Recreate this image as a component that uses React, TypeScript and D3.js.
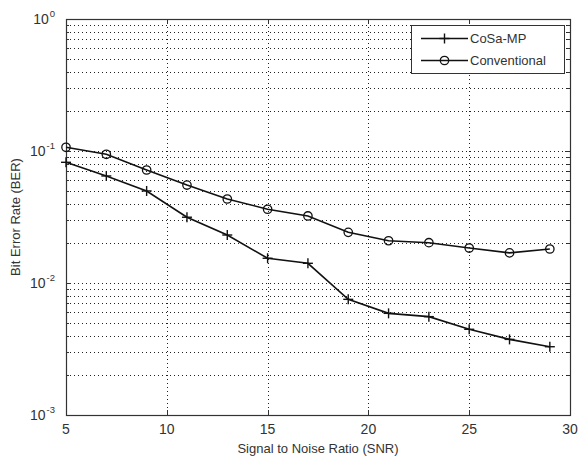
import React from "react";
import * as d3 from "d3";

const snr = [5, 7, 9, 11, 13, 15, 17, 19, 21, 23, 25, 27, 29];
const cosaMP = [0.0821, 0.0647, 0.0498, 0.0315, 0.0231, 0.0154, 0.0141, 0.00752, 0.00589, 0.00556, 0.00446, 0.00374, 0.00329];
const conventional = [0.1067, 0.0944, 0.0718, 0.0552, 0.0433, 0.0362, 0.0322, 0.0242, 0.0209, 0.0202, 0.0184, 0.0169, 0.0181];
const xTicks = [5, 10, 15, 20, 25, 30];
const yExponents = [-3, -2, -1, 0];
const seriesNames = ["CoSa-MP", "Conventional"];

const W = 580, H = 459;
const L = 66, R = 570, T = 19, B = 415;
const FONT = "'Liberation Sans', Arial, sans-serif";

export default function App() {
  const x = d3.scaleLinear().domain([5, 30]).range([L, R]);
  const y = d3.scaleLog().domain([1e-3, 1]).range([B, T]);
  const line = d3.line<[number, number]>().x(d => x(d[0])).y(d => y(d[1]));
  const minor: number[] = [];
  for (const e of [-3, -2, -1]) for (let k = 2; k <= 9; k++) minor.push(k * Math.pow(10, e));
  const cosaPts = snr.map((s, i) => [s, cosaMP[i]] as [number, number]);
  const convPts = snr.map((s, i) => [s, conventional[i]] as [number, number]);
  const axisColor = "#333";
  const plus = (cx: number, cy: number, k: string) => (
    <g key={k} stroke="#111" strokeWidth={1.4}>
      <line x1={cx - 5} x2={cx + 5} y1={cy} y2={cy} />
      <line x1={cx} x2={cx} y1={cy - 5} y2={cy + 5} />
    </g>
  );
  const circ = (cx: number, cy: number, k: string) => (
    <circle key={k} cx={cx} cy={cy} r={4.2} fill="none" stroke="#111" strokeWidth={1.3} />
  );
  return (
    <svg width={W} height={H} style={{ display: "block", position: "absolute", left: 0, top: 0, background: "#fff" }} fontFamily={FONT}>
      <rect x={0} y={0} width={W} height={H} fill="#fff" />
      <g stroke="#222" strokeWidth={1} strokeDasharray="1,3" fill="none">
        {minor.concat([0.01, 0.1]).map((v, i) => (
          <line key={"h" + i} x1={L} x2={R} y1={Math.round(y(v)) + 0.5} y2={Math.round(y(v)) + 0.5} />
        ))}
        {xTicks.slice(1, -1).map((v, i) => (
          <line key={"v" + i} x1={Math.round(x(v)) + 0.5} x2={Math.round(x(v)) + 0.5} y1={T} y2={B} />
        ))}
      </g>
      <g stroke={axisColor} strokeWidth={1}>
        {minor.map((v, i) => (
          <g key={"mt" + i}>
            <line x1={L} x2={L + 3} y1={Math.round(y(v)) + 0.5} y2={Math.round(y(v)) + 0.5} />
            <line x1={R} x2={R - 3} y1={Math.round(y(v)) + 0.5} y2={Math.round(y(v)) + 0.5} />
          </g>
        ))}
        {yExponents.map((e, i) => (
          <g key={"Mt" + i}>
            <line x1={L} x2={L + 5} y1={Math.round(y(Math.pow(10, e))) + 0.5} y2={Math.round(y(Math.pow(10, e))) + 0.5} />
            <line x1={R} x2={R - 5} y1={Math.round(y(Math.pow(10, e))) + 0.5} y2={Math.round(y(Math.pow(10, e))) + 0.5} />
          </g>
        ))}
        {xTicks.map((v, i) => (
          <g key={"xt" + i}>
            <line x1={Math.round(x(v)) + 0.5} x2={Math.round(x(v)) + 0.5} y1={B} y2={B - 5} />
            <line x1={Math.round(x(v)) + 0.5} x2={Math.round(x(v)) + 0.5} y1={T} y2={T + 5} />
          </g>
        ))}
      </g>
      <rect x={L + 0.5} y={T + 0.5} width={R - L} height={B - T} fill="none" stroke={axisColor} strokeWidth={1.2} />
      <path d={line(convPts) || ""} fill="none" stroke="#111" strokeWidth={1.6} />
      <path d={line(cosaPts) || ""} fill="none" stroke="#111" strokeWidth={1.6} />
      {convPts.map((p, i) => circ(x(p[0]), y(p[1]), "c" + i))}
      {cosaPts.map((p, i) => plus(x(p[0]), y(p[1]), "p" + i))}
      {xTicks.map((v, i) => (
        <text key={"xl" + i} x={x(v)} y={434} textAnchor="middle" fontSize={14} fill="#333">{v}</text>
      ))}
      {yExponents.map((e, i) => (
        <text key={"yl" + i} x={55} y={y(Math.pow(10, e)) + 5} textAnchor="end" fontSize={14} fill="#333">
          10
          <tspan dx={1} dy={-7} fontSize={9.5}>{e}</tspan>
        </text>
      ))}
      <text x={(L + R) / 2} y={453} textAnchor="middle" fontSize={13} fill="#333">Signal to Noise Ratio (SNR)</text>
      <text transform={`translate(20,${(T + B) / 2}) rotate(-90)`} textAnchor="middle" fontSize={13} fill="#333">Bit Error Rate (BER)</text>
      <g>
        <rect x={411.5} y={25.5} width={153} height={48} fill="#fff" stroke={axisColor} strokeWidth={1} />
        <line x1={421} x2={468} y1={38.5} y2={38.5} stroke="#111" strokeWidth={1.6} />
        {plus(444.5, 38.5, "lp")}
        <line x1={421} x2={468} y1={60.5} y2={60.5} stroke="#111" strokeWidth={1.6} />
        {circ(444.5, 60.5, "lc")}
        <text x={470} y={43} fontSize={13} fill="#333">{seriesNames[0]}</text>
        <text x={470} y={65} fontSize={13} fill="#333">{seriesNames[1]}</text>
      </g>
    </svg>
  );
}
